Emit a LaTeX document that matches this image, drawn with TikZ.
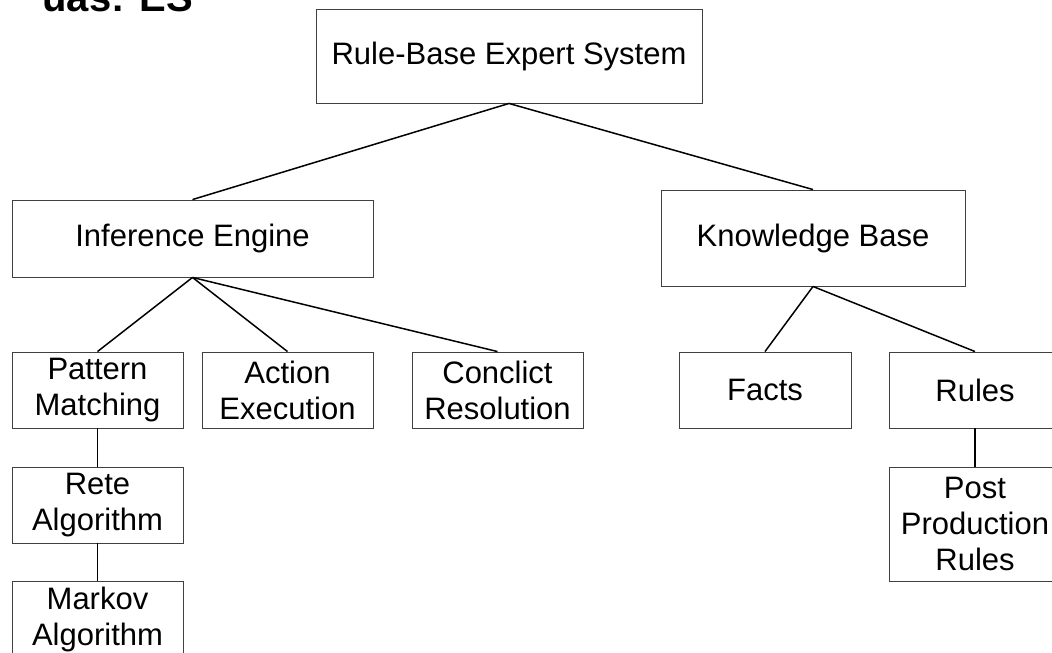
\documentclass[tikz,border=0pt]{standalone}
\usepackage{fontspec}
\setmainfont{Liberation Sans}
\begin{document}
\begin{tikzpicture}[x=1pt,y=-1pt,
  box/.style={draw=black!75, line width=0.9pt, inner sep=0pt, align=center,
    font=\fontsize{31}{36}\selectfont, minimum width=171pt, minimum height=76pt},
  link/.style={draw=black, line width=1.5pt}]
\useasboundingbox (0,0) rectangle (1052,653);
\clip (0,0) rectangle (1052,653);
\fill[white] (0,0) rectangle (1052,653);
\node[anchor=base east, inner sep=0pt, font=\fontsize{40}{48}\selectfont\bfseries] (title) at (193,12) {uas: ES};
\node[box, minimum width=386pt, minimum height=94pt] (top) at (509,56) {Rule-Base Expert System};
\node[box, minimum width=361pt, minimum height=77pt] (ie) at (192.5,238.5) {Inference Engine};
\node[box, minimum width=304pt, minimum height=96pt] (kb) at (813,238) {Knowledge Base};
\node[box] (pm) at (97.5,390) {Pattern\\Matching};
\node[box] (ae) at (287.5,390) {Action\\Execution};
\node[box] (cr) at (497.5,390) {Conclict\\Resolution};
\node[box, minimum width=172pt] (facts) at (765,390) {Facts};
\node[box, minimum width=172pt] (rules) at (975,390) {Rules};
\node[box] (rete) at (97.5,505) {Rete\\Algorithm};
\node[box] (markov) at (97.5,619) {Markov\\Algorithm};
\node[box, minimum width=172pt, minimum height=114pt] (post) at (975,524) {Post\\Production\\Rules};
\draw[link] (top.south) -- (ie.north);
\draw[link] (top.south) -- (kb.north);
\draw[link] (ie.south) -- (pm.north);
\draw[link] (ie.south) -- (ae.north);
\draw[link] (ie.south) -- (cr.north);
\draw[link] (kb.south) -- (facts.north);
\draw[link] (kb.south) -- (rules.north);
\draw[link] (pm.south) -- (rete.north);
\draw[link] (rete.south) -- (markov.north);
\draw[link] (rules.south) -- (post.north);
\end{tikzpicture}
\end{document}
